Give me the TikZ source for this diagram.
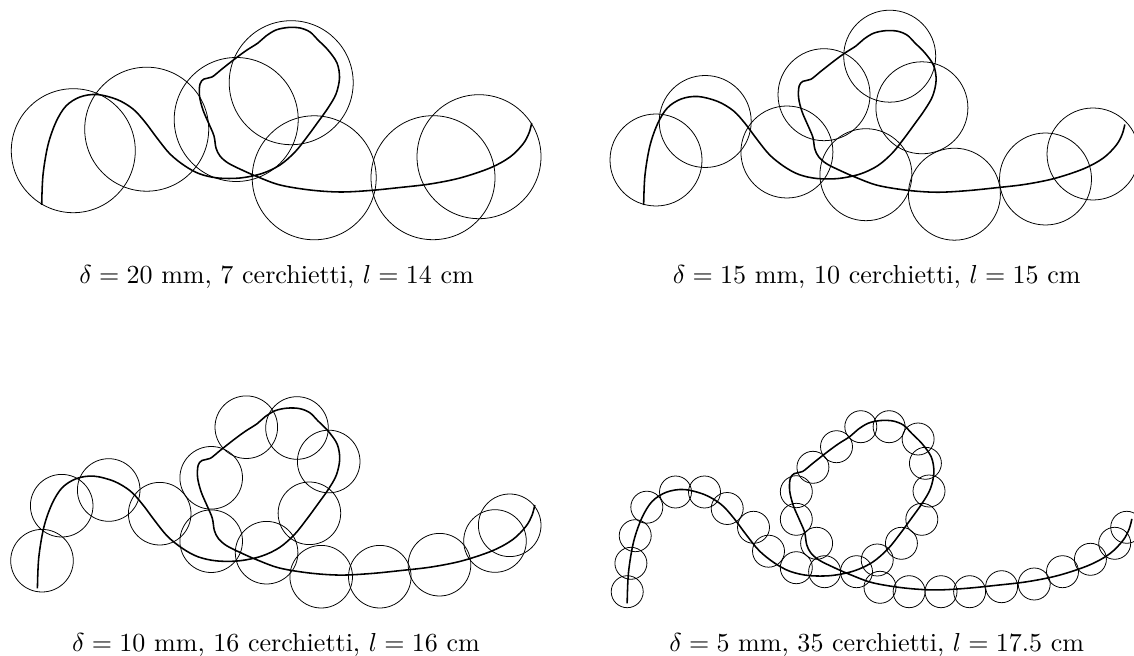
\documentclass[tikz,border=0pt]{standalone}
\usetikzlibrary{calc}
\tikzset{
  coast/.style={line width=0.6pt, black, line join=round},
  ring/.style={line width=0.3pt, black},
  caption/.style={font=\normalsize, anchor=base, inner sep=0pt},
  coastcurve/.pic={
    \draw[coast] plot[smooth, tension=0.55] coordinates {
      (41.7,205) (43,175) (48,145) (56,122) (66,106) (80,97) (97,94.5)
      (117,99.5) (133,109) (145,122) (157,138) (170,154) (185,166)
      (200,174) (218,178) (240,178) (262,173.5) (280,165) (295,152)
      (307,137) (318,122) (328,108) (336,94) (339.5,78) (337,63)
      (328,50) (318,40) (310,32) (300,28) (288,27.5) (276,30) (266,36)
      (258,43) (247,50) (236,58) (222,69) (212,77) (204,79) (200,84)
      (199.5,96) (203,110) (209,124) (214,136) (216,148) (220,156)
      (228,163) (242,170) (258,177) (280,185) (310,190) (340,192)
      (370,190.5) (400,187.5) (430,184) (460,178) (490,168) (510,157)
      (523,144) (529,133) (531.7,123)};
  },
}

\begin{document}
\begin{tikzpicture}[x=0.0135cm, y=-0.0135cm]
  \useasboundingbox (0,0) rectangle (1134,656);
  \clip (0,0) rectangle (1134,656);

  % delta = 20 mm
  \pic at (0,0) {coastcurve};
  \foreach \cx/\cy in {73.3/150.7, 146.7/129.2, 236.2/119.5, 291.2/82.7,
                       314.2/177.8, 433/177.7, 479/156.7}
    \draw[ring] (\cx,\cy) circle[radius=62];
  \node[caption] (cap1) at (276.6,284)
    {$\delta = 20$ mm, 7 cerchietti, $l = 14$ cm};

  % delta = 15 mm
  \pic[scale=0.982] at (602.7,3.7) {coastcurve};
  \foreach \cx/\cy in {656/160, 705.2/121.5, 786.9/152, 824/94.7, 889.7/56.2,
                       921.9/107.8, 865.9/174.7, 954.4/194.2, 1045.5/179,
                       1093/154}
    \draw[ring] (\cx,\cy) circle[radius=46];
  \node[caption] (cap2) at (876.7,284)
    {$\delta = 15$ mm, 10 cerchietti, $l = 15$ cm};

  % delta = 10 mm
  \pic[scale=1.015] at (-4.9,380.2) {coastcurve};
  \foreach \cx/\cy in {42/560.7, 61.7/505.7, 108.7/490, 159.7/513.7,
                       211.2/477.8, 211.2/541.2, 246.3/427.2, 266.6/552.7,
                       297/428, 328.7/461.5, 309.4/513.3, 321.2/576.7,
                       379.8/576.7, 439.5/564.7, 495/541, 509.7/525.3}
    \draw[ring] (\cx,\cy) circle[radius=31.3];
  \node[caption] (cap3) at (276,651)
    {$\delta = 10$ mm, 16 cerchietti, $l = 16$ cm};

  % delta = 5 mm
  \pic[scale=1.03] at (584.2,392.2) {coastcurve};
  \foreach \cx/\cy in {627.2/591.7, 630.9/563.3, 635.2/535.7, 646.8/507.2,
                       675.5/492, 704.5/492, 727.2/508.5, 753.5/527.3,
                       768.5/551.2, 796.3/567.7, 824.6/571.7, 856.5/571.7,
                       877.2/560, 901.4/543.3, 921.8/519.3, 929/491,
                       925.4/463.3, 918.1/439, 889.1/426.7, 860.8/426.7,
                       836.5/446.7, 812.9/467.3, 796.3/491.7, 796.3/519.3,
                       816.6/543.3, 880/587.3, 909.1/591.7, 941/591.7,
                       969.6/591.7, 1001.6/586.7, 1034.2/584, 1062.5/571.7,
                       1090.4/559.3, 1114.7/543.3, 1126.7/527.3}
    \draw[ring] (\cx,\cy) circle[radius=16];
  \node[caption] (cap4) at (876.7,651)
    {$\delta = 5$ mm, 35 cerchietti, $l = 17.5$ cm};
\end{tikzpicture}
\end{document}
